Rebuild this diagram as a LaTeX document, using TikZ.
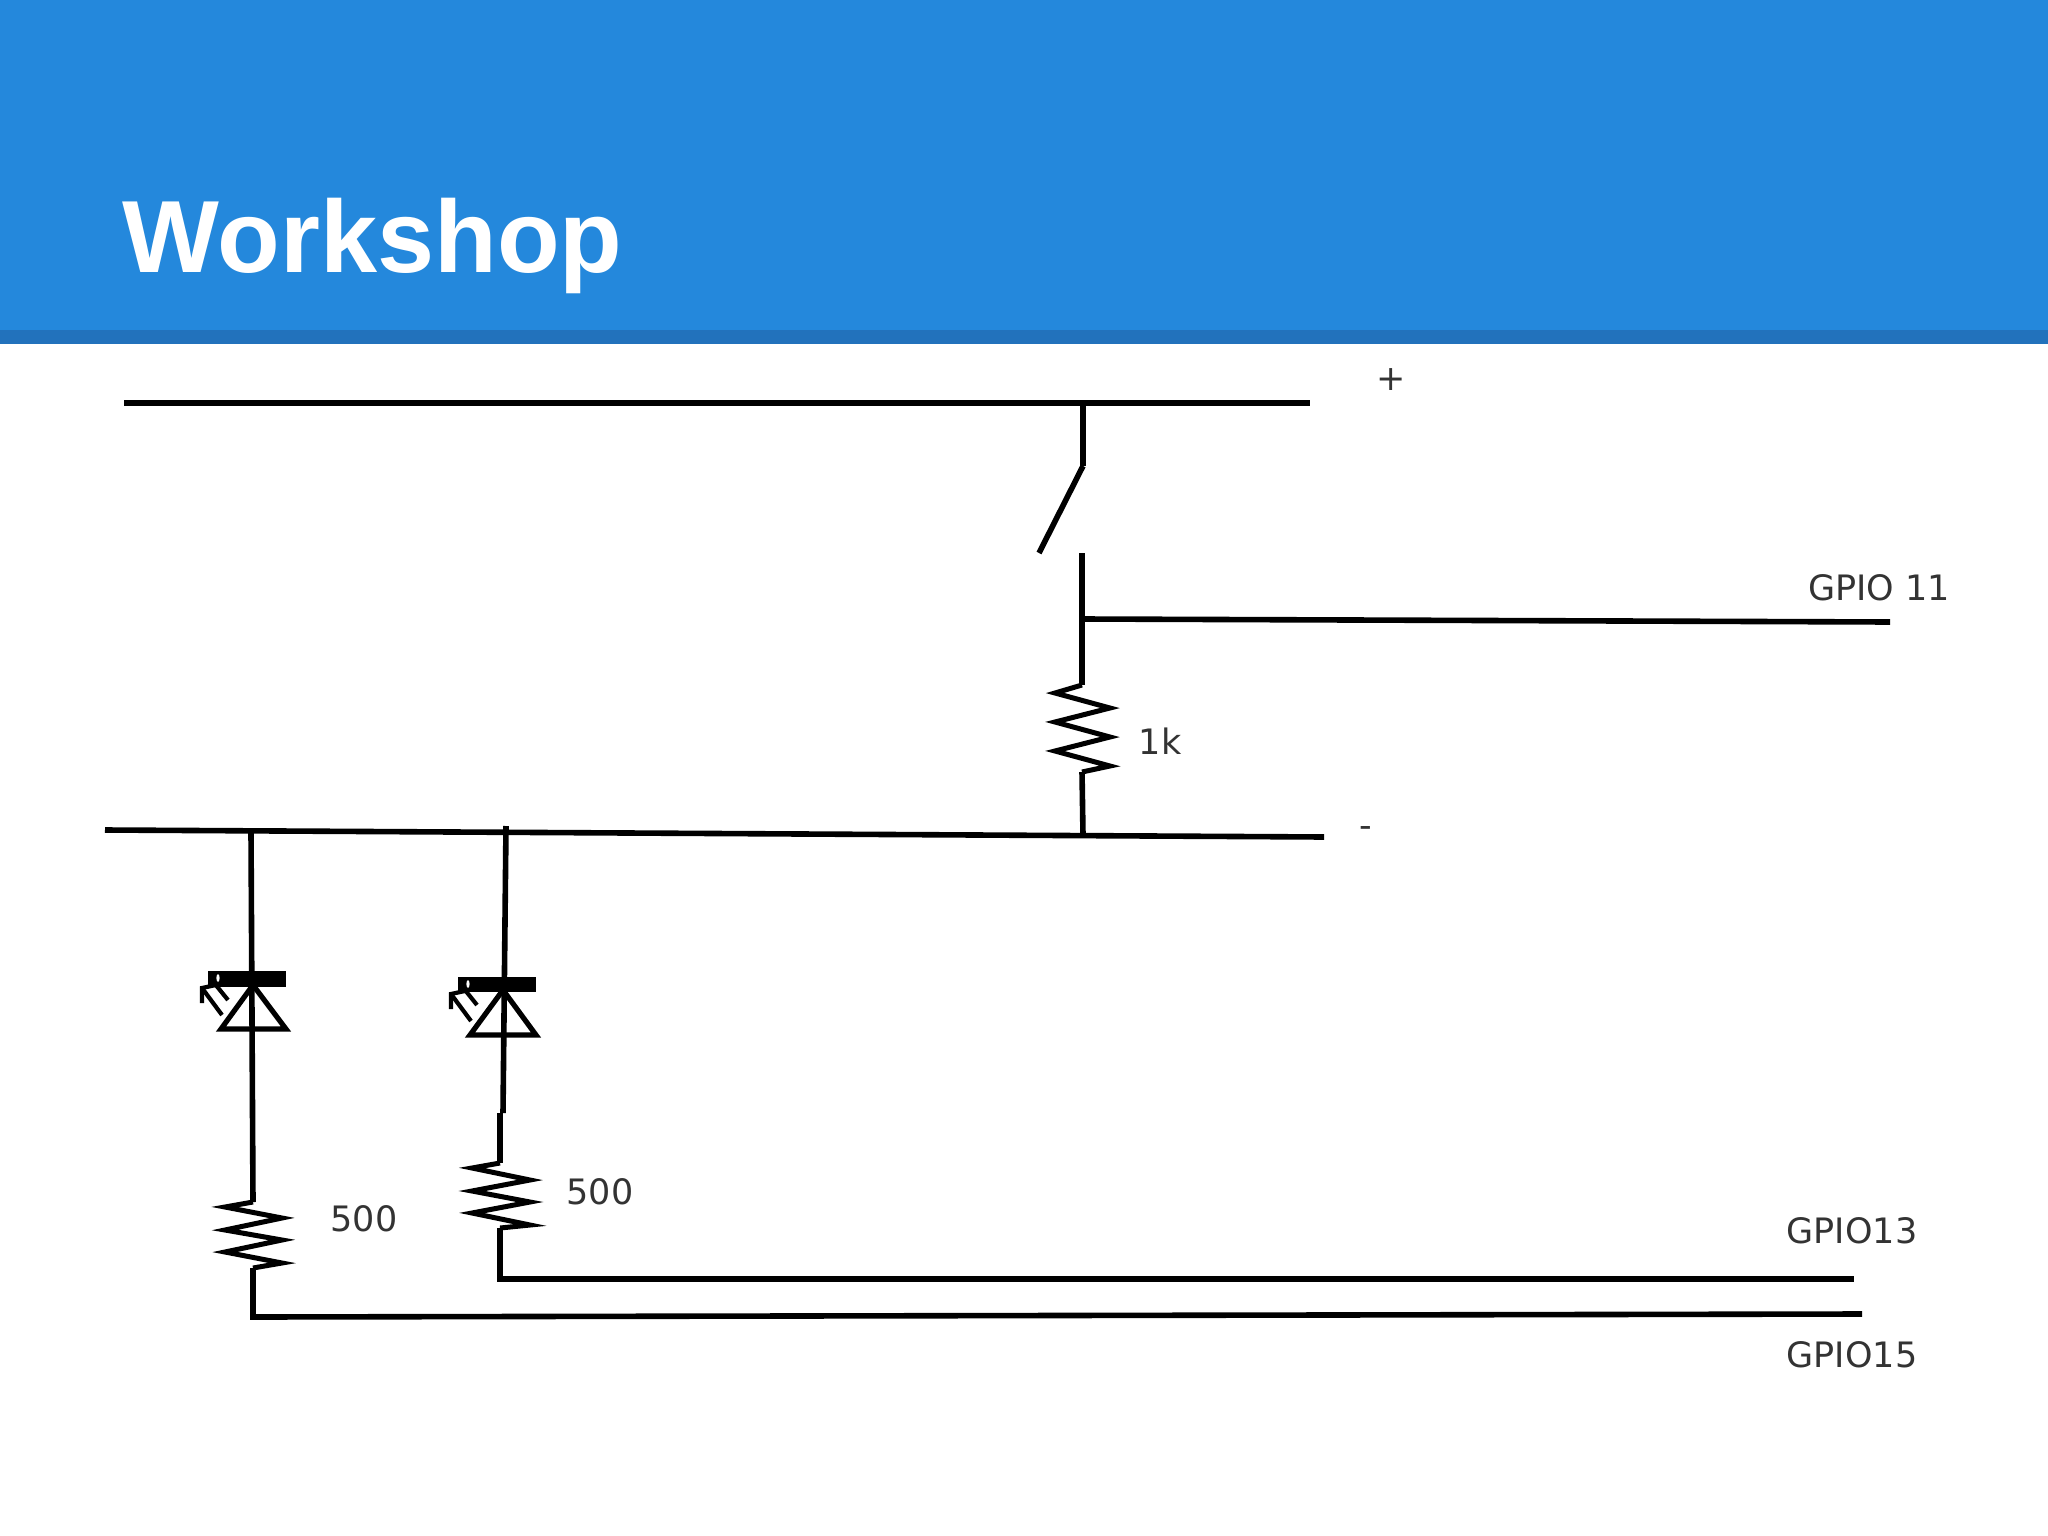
\documentclass[tikz,border=0pt]{standalone}
\usepackage{fontspec}
\setmainfont{DejaVu Sans}
\newfontfamily\titlefont[Ligatures=TeX]{Liberation Sans}
\definecolor{headblue}{HTML}{2488DC}
\definecolor{headband}{HTML}{2272BC}
\definecolor{labelgrey}{HTML}{333333}
\tikzset{
  wire/.style={draw=black,line width=5.6pt,line cap=butt,line join=miter},
  zig/.style={draw=black,line width=5pt,line join=miter,miter limit=10},
  ledline/.style={draw=black,line width=5.2pt,line join=miter},
  ledray/.style={draw=black,line width=4.2pt},
  lab/.style={text=labelgrey,font=\fontsize{35}{41}\selectfont,inner sep=0pt,anchor=center},
}
\begin{document}
\begin{tikzpicture}[x=1pt,y=-1pt]
\useasboundingbox (0,0) rectangle (2048,1536);
\fill[white] (0,0) rectangle (2048,1536);
\fill[headblue] (0,0) rectangle (2048,330);
\fill[headband] (0,330) rectangle (2048,344);
\node[text=white,anchor=base west,inner sep=0pt,font=\titlefont\bfseries\fontsize{102.6}{110}\selectfont] (title) at (122.5,272) {Workshop};

% rails
\coordinate (pL) at (124,403); \coordinate (pR) at (1310,403);
\coordinate (pT) at (1083,403);
\coordinate (nL) at (105,830); \coordinate (nR) at (1324,837);
\coordinate (nS) at (1083,835);
\coordinate (nA) at (251,832); \coordinate (nB) at (506,826);
\draw[wire] (pL) -- (pR);
\draw[wire] (nL) -- (nR);

% switch and 1k
\coordinate (swHinge) at (1083,466);
\coordinate (swTip) at (1039,553);
\coordinate (swLow) at (1082,553);
\coordinate (junc) at (1083,619);
\coordinate (gpioE) at (1890,622);
\coordinate (rT) at (1082,685);
\coordinate (rB) at (1082,772);
\draw[wire] (pT) -- (swHinge);
\draw[wire] (swHinge) -- (swTip);
\draw[wire] (swLow) -- (rT);
\draw[wire] (junc) -- (gpioE);
\draw[zig] (rT) -- (1055,693) -- (1110,708) -- (1055,722) -- (1110,737) -- (1055,751) -- (1110,766) -- (rB);
\draw[wire] (rB) -- (nS);

% left LED branch
\coordinate (aBarL) at (208,979); \coordinate (aBarR) at (286,979);
\coordinate (aApex) at (253,985);
\coordinate (aBL) at (221,1029); \coordinate (aBR) at (286,1029);
\coordinate (aRT) at (253,1202); \coordinate (aRB) at (253,1268);
\coordinate (aCorner) at (253,1317); \coordinate (aEnd) at (1862,1314);
\draw[wire] (nA) -- (aRT);
\draw[draw=black,line width=16pt] (aBarL) -- (aBarR);
\draw[ledline] (aApex) -- (aBR) -- (aBL) -- cycle;
\draw[ledray] (202,988) -- (222,1015);
\draw[ledray] (215,984) -- (228,1000);
\draw[ledray] (202,1003) -- (202,988) -- (216,985);
\fill[white] (218,978) ellipse (1.6pt and 4pt);
\draw[zig] (aRT) -- (225,1207) -- (282,1218) -- (225,1230) -- (282,1240) -- (225,1252) -- (282,1263) -- (aRB);
\draw[wire] (aRB) -- (aCorner) -- (aEnd);

% right LED branch
\coordinate (bBarL) at (458,984.5); \coordinate (bBarR) at (536,984.5);
\coordinate (bApex) at (503,990);
\coordinate (bBL) at (470,1035); \coordinate (bBR) at (536,1035);
\coordinate (bJog) at (503,1113); \coordinate (bJog2) at (500,1113);
\coordinate (bRT) at (500,1163); \coordinate (bRB) at (500,1228);
\coordinate (bCorner) at (500,1279); \coordinate (bEnd) at (1854,1279);
\draw[wire] (nB) -- (bJog);
\draw[wire] (bJog2) -- (bRT);
\draw[draw=black,line width=15pt] (bBarL) -- (bBarR);
\draw[ledline] (bApex) -- (bBR) -- (bBL) -- cycle;
\draw[ledray] (451,994) -- (471,1021);
\draw[ledray] (465,990) -- (477,1005);
\draw[ledray] (451,1009) -- (451,994) -- (465,991);
\fill[white] (468,984) ellipse (1.6pt and 4pt);
\draw[zig] (bRT) -- (472,1168) -- (530,1180) -- (472,1191) -- (530,1202) -- (472,1213) -- (530,1225) -- (bRB);
\draw[wire] (bRB) -- (bCorner) -- (bEnd);

% labels
\node[lab] (lplus) at (1391,380) {+};
\node[lab] (lminus) at (1366,832) {-};
\node[lab] (lg11) at (1879,588) {GPIO 11};
\node[lab] (l1k) at (1160,741) {1k};
\node[lab] (l500a) at (364,1219) {500};
\node[lab] (l500b) at (600,1192) {500};
\node[lab] (lg13) at (1852,1231) {GPIO13};
\node[lab] (lg15) at (1852,1355) {GPIO15};
\end{tikzpicture}
\end{document}
